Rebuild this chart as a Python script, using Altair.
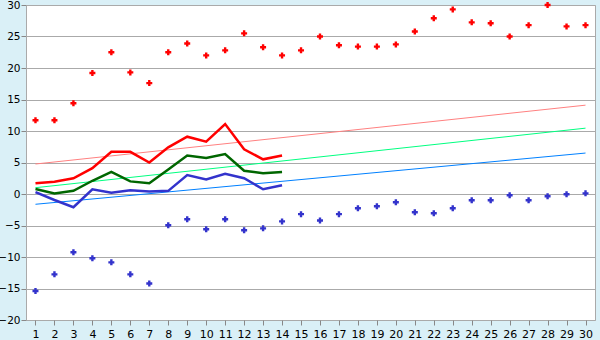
import altair as alt
import pandas as pd

days = list(range(1, 31))
red_pts = [11.7, 11.7, 14.4, 19.2, 22.5, 19.3, 17.6, 22.5, 23.9, 22.0,
           22.8, 25.5, 23.3, 22.0, 22.8, 25.0, 23.6, 23.4, 23.4, 23.75,
           25.8, 27.9, 29.3, 27.25, 27.1, 25.0, 26.8, 30.0, 26.6, 26.8]
blue_pts = [-15.4, -12.75, -9.25, -10.2, -10.85, -12.75, -14.2, -4.95, -4.0, -5.6,
            -4.0, -5.75, -5.45, -4.35, -3.2, -4.2, -3.2, -2.25, -1.95, -1.3,
            -2.9, -3.05, -2.25, -1.0, -1.0, -0.2, -1.0, -0.35, -0.05, 0.1]
line_days = list(range(1, 15))
red_line = [1.7, 1.95, 2.5, 4.1, 6.7, 6.7, 5.0, 7.4, 9.1, 8.3, 11.1, 7.1, 5.5, 6.1]
green_line = [0.8, 0.1, 0.5, 2.1, 3.5, 2.0, 1.7, 3.9, 6.1, 5.7, 6.35, 3.7, 3.3, 3.5]
blue_line = [0.3, -0.95, -2.1, 0.75, 0.2, 0.6, 0.4, 0.5, 3.0, 2.3, 3.2, 2.5, 0.75, 1.4]
trend_days = [1, 30]
pink_trend = [4.76, 14.1]
spring_trend = [1.0, 10.45]
azure_trend = [-1.63, 6.5]

xs = alt.Scale(domain=[0.5, 30.5], nice=False, zero=False)
ys = alt.Scale(domain=[-20, 30], nice=False, zero=False)
xax = alt.Axis(values=days, grid=False, tickColor="#888888", tickSize=5,
               domain=False, labelFontSize=11, labelColor="black",
               labelFont="DejaVu Sans", labelPadding=3, title=None)
yax = alt.Axis(values=list(range(-20, 31, 5)), grid=True, gridColor="#AAAAAA",
               tickColor="#888888", tickSize=5, domainColor="#AAAAAA",
               labelFontSize=10.5, labelColor="black", labelFont="DejaVu Sans",
               labelPadding=1, title=None)


def line(xv, yv, color, width):
    df = pd.DataFrame({"x": xv, "y": yv})
    return alt.Chart(df).mark_line(color=color, strokeWidth=width).encode(
        x=alt.X("x:Q", scale=xs, axis=xax),
        y=alt.Y("y:Q", scale=ys, axis=yax),
    )


def pts(xv, yv, color):
    df = pd.DataFrame({"x": xv, "y": yv})
    return alt.Chart(df).mark_point(shape="cross", filled=True, color=color,
                                    size=36, opacity=1).encode(
        x=alt.X("x:Q", scale=xs, axis=xax),
        y=alt.Y("y:Q", scale=ys, axis=yax),
    )


chart = alt.layer(
    line(trend_days, pink_trend, "#FF8080", 1),
    line(trend_days, spring_trend, "#00FF80", 1),
    line(trend_days, azure_trend, "#0080FF", 1),
    line(line_days, red_line, "#FF0000", 2.5),
    line(line_days, green_line, "#006600", 2.5),
    line(line_days, blue_line, "#3333CC", 2.5),
    pts(days, red_pts, "#FF0000"),
    pts(days, blue_pts, "#3333CC"),
).properties(
    width=569, height=315,
    autosize=alt.AutoSizeParams(type="none"),
    padding={"left": 26, "top": 5, "right": 5, "bottom": 20},
    background="#DAF0F7",
).configure_view(fill="white", stroke="#AAAAAA", strokeWidth=1)

chart.save("out.html", embed_options={"renderer": "svg", "actions": False})
